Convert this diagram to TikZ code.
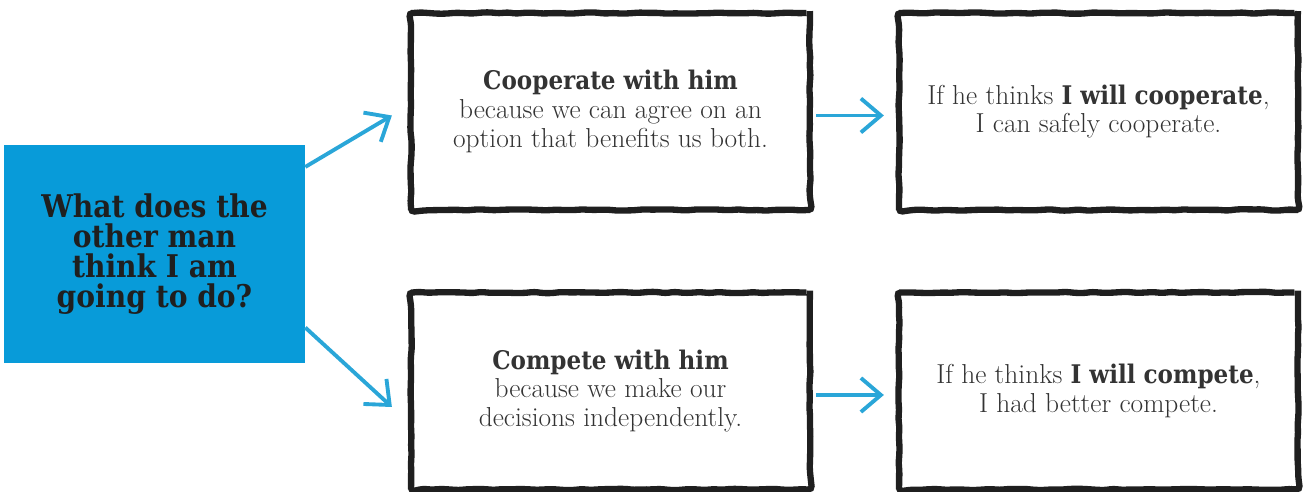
\documentclass[tikz,border=0pt]{standalone}
\usepackage{fontspec}
\newfontfamily\slab{DejaVu Serif Condensed}
\usetikzlibrary{arrows.meta,decorations.pathmorphing}
\definecolor{qblue}{RGB}{8,155,217}
\definecolor{arrowblue}{RGB}{42,166,216}
\newcommand{\hl}[1]{{\slab\bfseries\fontsize{14.6}{16.5}\selectfont #1}}
\pgfmathsetseed{7}

\begin{document}
\begin{tikzpicture}[
  x=0.02cm,y=-0.02cm,
  question/.style={fill=qblue,minimum width=6.02cm,minimum height=4.36cm,inner sep=0pt,align=center,
    font=\slab\bfseries\fontsize{17.8}{17.2}\selectfont,text=black!88},
  choice/.style={draw=black!88,line width=3.6pt,rounded corners=2pt,minimum width=7.98cm,minimum height=3.94cm,
    align=center,font=\fontsize{15.6}{16.4}\selectfont,text=black!80,
    decorate,decoration={random steps,segment length=5pt,amplitude=0.4pt}},
  arc/.style={-{Straight Barb[length=4mm,width=6.8mm]},draw=arrowblue,line width=2.2pt}
]
\useasboundingbox (0,0) rectangle (1306,492);
\node[question] (ask) at (154.5,254) {What does the\\other man\\think I am\\going to do?};
\node[choice] (coop) at (610.5,111.5) {\hl{Cooperate with him}\\because we can agree on an\\option that benefits us both.};
\node[choice] (comp) at (610.5,391) {\hl{Compete with him}\\because we make our\\decisions independently.};
\node[choice] (safe) at (1098.5,111.5) {If he thinks \hl{I will cooperate},\\I can safely cooperate.};
\node[choice] (fight) at (1098.5,391) {If he thinks \hl{I will compete},\\I had better compete.};

\draw[arc] (ask.30) -- ([shift={(-16,4)}]coop.west);
\draw[arc] (ask.-26) -- ([shift={(-16,16)}]comp.west);
\draw[arc] ([shift={(3,4)}]coop.east) -- ([shift={(-12,4)}]safe.west);
\draw[arc] ([shift={(3,4)}]comp.east) -- ([shift={(-12,4)}]fight.west);
\end{tikzpicture}
\end{document}
